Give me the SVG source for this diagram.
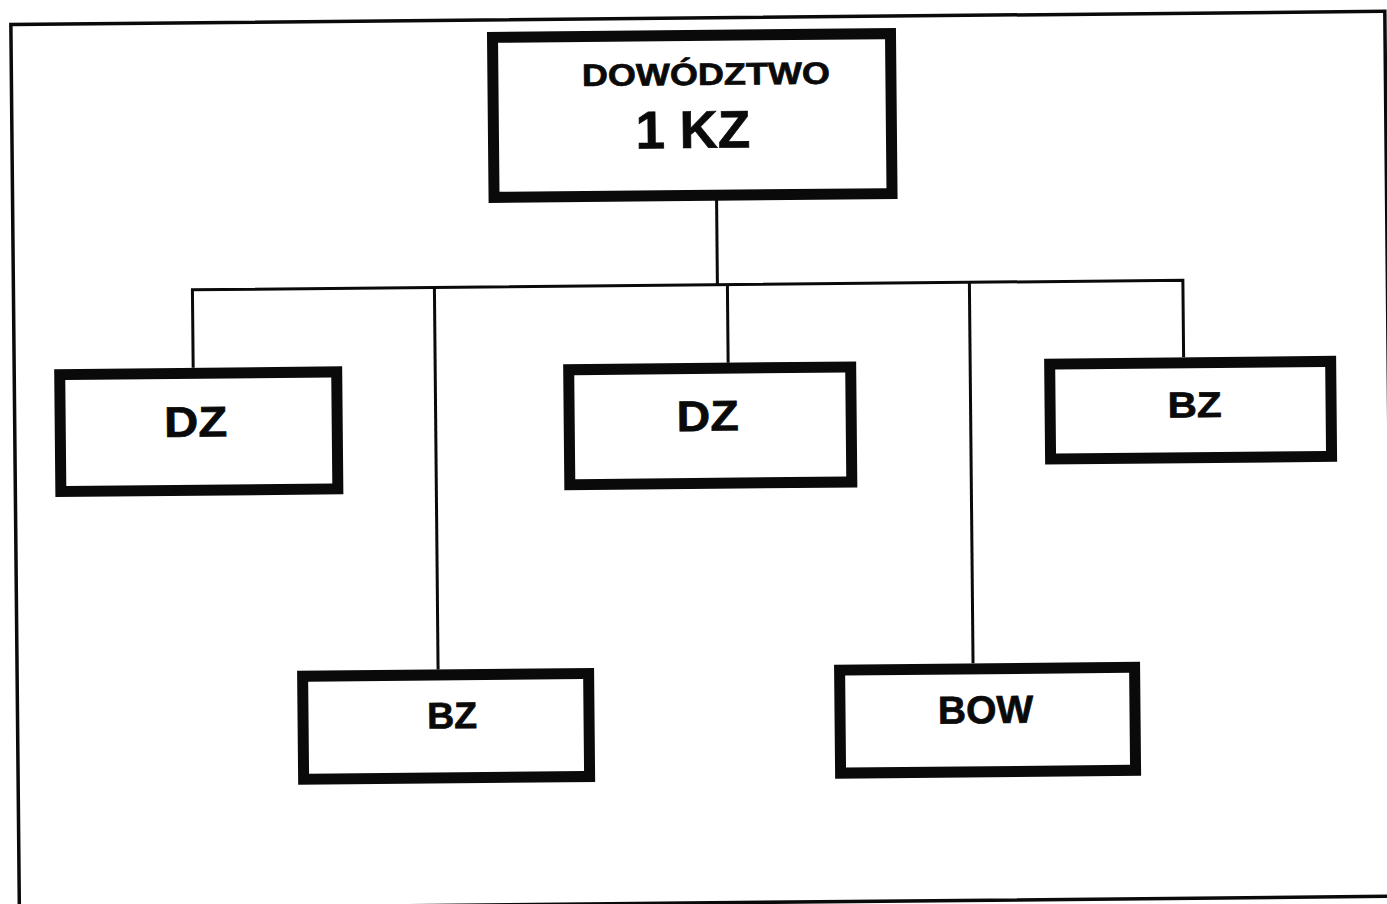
<svg xmlns="http://www.w3.org/2000/svg" width="1387" height="904" viewBox="0 0 1387 904">
<style>
.box{fill:#fff;stroke:#0a0a0a;stroke-width:11}
.lbl{font-family:"Liberation Sans",Arial,sans-serif;font-weight:bold;fill:#0a0a0a;stroke:#0a0a0a;stroke-width:0.7;text-anchor:middle}
.con{stroke:#0a0a0a;stroke-width:3;fill:none;stroke-linejoin:miter}
</style>
<rect width="1387" height="904" fill="#fff"/>
<g transform="rotate(-0.55 693 452)">
<rect id="frame" x="15" y="18" width="1374" height="885" fill="none" stroke="#0a0a0a" stroke-width="3.5"/>
<g id="connectors">
<path class="con" d="M719 200V285"/>
<path class="con" d="M194 363V285H1184.5V362"/>
<path class="con" d="M436 285V667"/>
<path class="con" d="M729 285V363"/>
<path class="con" d="M971 285V666"/>
</g>
<g id="node-dowodztwo">
<rect class="box" x="496.5" y="35.5" width="398" height="160"/>
<text class="lbl" x="709.5" y="85" font-size="31" textLength="248" lengthAdjust="spacingAndGlyphs">DOWÓDZTWO</text>
<text class="lbl" x="696" y="148" font-size="53">1 KZ</text>
</g>
<g id="node-dz1">
<rect class="box" x="60.5" y="368.5" width="277" height="117"/>
<text class="lbl" x="196" y="432" font-size="43" textLength="63" lengthAdjust="spacingAndGlyphs">DZ</text>
</g>
<g id="node-dz2">
<rect class="box" x="569.5" y="368.5" width="282" height="115"/>
<text class="lbl" x="708" y="431" font-size="43" textLength="62" lengthAdjust="spacingAndGlyphs">DZ</text>
</g>
<g id="node-bz1">
<rect class="box" x="1050.5" y="367.5" width="281" height="95"/>
<text class="lbl" x="1195" y="422" font-size="36" textLength="54" lengthAdjust="spacingAndGlyphs">BZ</text>
</g>
<g id="node-bz2">
<rect class="box" x="300.5" y="672.5" width="286" height="103"/>
<text class="lbl" x="449.5" y="726" font-size="37" textLength="50" lengthAdjust="spacingAndGlyphs">BZ</text>
</g>
<g id="node-bow">
<rect class="box" x="837.5" y="671.5" width="295" height="103"/>
<text class="lbl" x="983" y="726" font-size="39">BOW</text>
</g>
</g>
</svg>
